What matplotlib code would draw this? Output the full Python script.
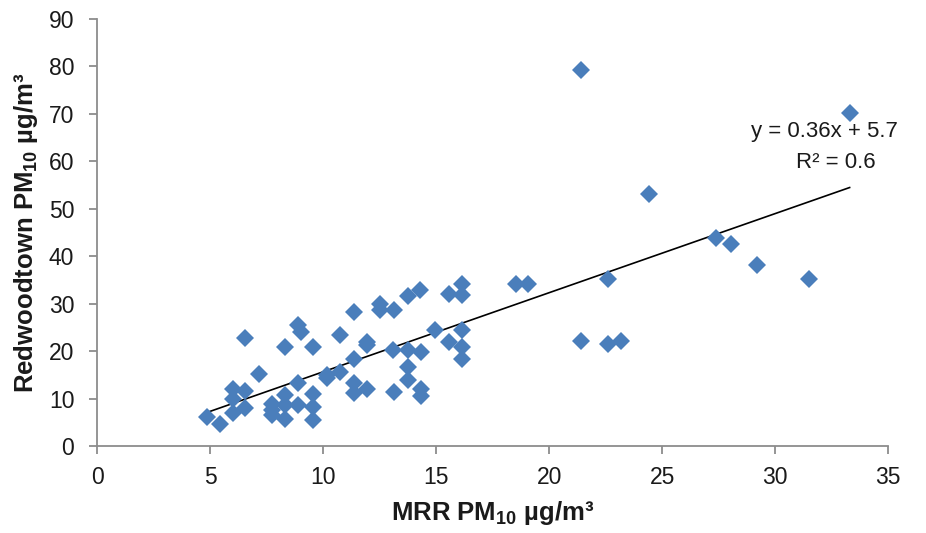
import numpy as np
import matplotlib.pyplot as plt

plt.rcParams['font.family'] = ['Liberation Sans', 'DejaVu Sans']
plt.rcParams['mathtext.fontset'] = 'custom'
plt.rcParams['mathtext.rm'] = 'Liberation Sans'
plt.rcParams['mathtext.bf'] = 'Liberation Sans:bold'

# MRR vs Redwoodtown PM10, ug/m3
mrr = [4.85, 5.45, 6.55, 6.0, 6.55, 6.0, 6.0, 6.55, 7.15, 7.75, 7.75, 7.75,
       8.3, 8.3, 8.3, 8.3, 8.9, 9.0, 8.9, 8.9, 9.55, 9.55, 9.55, 9.55,
       10.15, 10.15, 10.75, 10.75, 11.35, 11.35, 11.35, 11.35, 11.95, 11.95, 11.95,
       12.5, 12.5, 13.15, 13.1, 13.15, 13.75, 13.75, 13.75, 13.75, 14.3, 14.35,
       14.35, 14.35, 14.95, 15.55, 15.55, 16.15, 16.15, 16.15, 16.15, 16.15,
       18.55, 19.05, 21.4, 21.4, 22.6, 22.6, 23.2, 24.4, 27.4, 28.05, 29.2,
       31.5, 33.3]
redwood = [6.2, 4.6, 22.7, 12.1, 11.6, 10.0, 6.9, 8.0, 15.1, 8.9, 6.5, 7.6,
           20.9, 10.7, 8.6, 5.8, 25.4, 24.0, 13.2, 8.6, 20.9, 10.9, 8.3, 5.5,
           14.9, 14.3, 23.3, 15.6, 28.2, 18.4, 13.2, 11.1, 22.0, 21.3, 12.1,
           30.0, 28.6, 28.6, 20.2, 11.4, 31.7, 20.2, 16.7, 13.9, 32.8, 19.8,
           12.1, 10.6, 24.4, 32.1, 21.9, 34.2, 31.9, 24.4, 20.9, 18.4,
           34.1, 34.1, 79.1, 22.1, 35.1, 21.4, 22.1, 53.0, 43.9, 42.5, 38.1,
           35.1, 70.2]

# trend line as drawn on the chart
trend_slope = 1.665
trend_icpt = -1.0
trend_label = ['y = 0.36x + 5.7', 'R² = 0.6']

fig, ax = plt.subplots(figsize=(9.26, 5.33), dpi=100)
fig.subplots_adjust(left=0.105, right=0.959, bottom=0.163, top=0.965)

ax.plot(mrr, redwood, linestyle='none', marker='D', markersize=9.6,
        color='#4A7EBB', markeredgewidth=0, zorder=3)

tx = np.array([min(mrr), max(mrr)])
ax.plot(tx, trend_slope * tx + trend_icpt, color='black', linewidth=1.2, zorder=2)
ax.text(32.2, 66.2, trend_label[0], ha='center', va='center', fontsize=16,
        color='#1a1a1a')
ax.text(32.7, 59.7, trend_label[1], ha='center', va='center', fontsize=16,
        color='#1a1a1a')

ax.set_xlim(0, 35)
ax.set_ylim(0, 90)
ax.set_xticks(np.arange(0, 36, 5))
ax.set_yticks(np.arange(0, 91, 10))
for s in ['top', 'right']:
    ax.spines[s].set_visible(False)
for s in ['left', 'bottom']:
    ax.spines[s].set_color('#8c8c8c')
    ax.spines[s].set_linewidth(1.3)
ax.tick_params(direction='out', length=5.5, width=1.3, color='#8c8c8c',
               labelsize=16.5, labelcolor='#1a1a1a')
ax.tick_params(axis='x', pad=9)
ax.tick_params(axis='y', pad=11)

ax.set_xlabel(r'MRR PM$_\mathbf{10}$ µg/m³', fontsize=18.5, fontweight='bold',
              color='#1a1a1a', labelpad=7)
ax.set_ylabel(r'Redwoodtown PM$_\mathbf{10}$ µg/m³', fontsize=18.5, fontweight='bold',
              color='#1a1a1a', labelpad=6)

fig.savefig('out.png', dpi=100)
